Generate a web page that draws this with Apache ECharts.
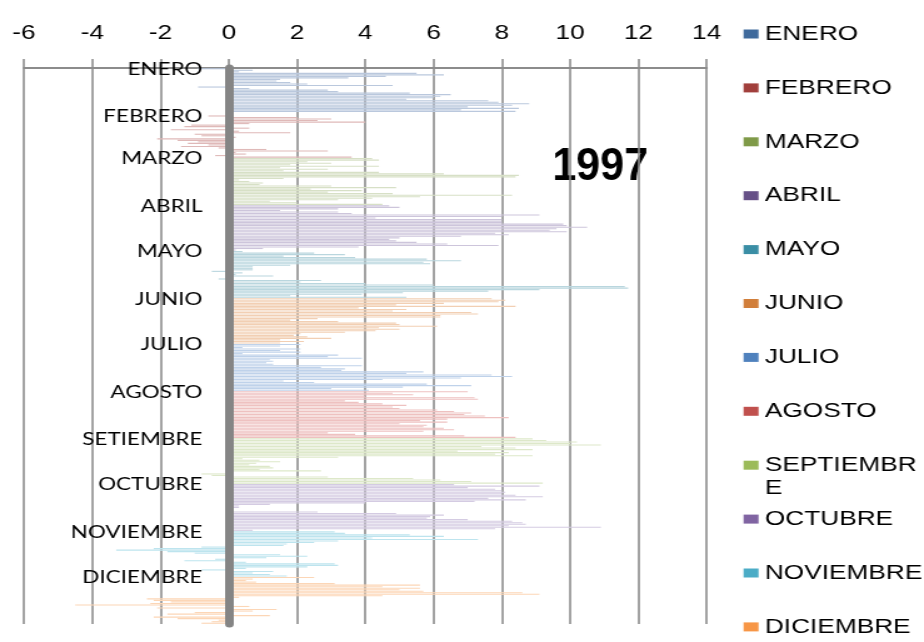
<!DOCTYPE html>
<html>
<head>
<meta charset="utf-8">
<script src="https://cdn.jsdelivr.net/npm/echarts@6/dist/echarts.min.js"></script>
<style>
    html, body { margin: 0; padding: 0; background: #fff; overflow: hidden; }
    /* el gráfico original está estirado en horizontal */
    #chart { width: 739px; height: 642px; transform: scaleX(1.2503); transform-origin: 0 0; }
</style>
</head>
<body>
<div id="chart"></div>
<script>
// leyenda y etiquetas del eje
var meses = ['ENERO', 'FEBRERO', 'MARZO', 'ABRIL', 'MAYO', 'JUNIO', 'JULIO', 'AGOSTO', 'SEPTIEMBRE', 'OCTUBRE', 'NOVIEMBRE', 'DICIEMBRE'];
var etiquetasEje = ['ENERO', 'FEBRERO', 'MARZO', 'ABRIL', 'MAYO', 'JUNIO', 'JULIO', 'AGOSTO', 'SETIEMBRE', 'OCTUBRE', 'NOVIEMBRE', 'DICIEMBRE'];
var ticksX = [-6, -4, -2, 0, 2, 4, 6, 8, 10, 12, 14];

// valores diarios 1997
var ene = [-0.9, 0.7, 0.3, 5.5, 6.3, 4.6, 3.5, 1.5, 1.4, 1.8, 2.3, 4.8, -0.9, 0.6, 2.9, 3.2, 5.3, 6.5, 6.2, 6.0, 5.2, 7.6, 7.9, 8.8, 8.3, 7.0, 8.5, 6.8, 8.4, 0.1, 0.1];
var feb = [-0.6, 2.0, 3.0, 2.6, 4.0, 0.6, -1.1, -1.3, 0.6, -1.7, 0.3, 1.8, -1.0, -0.8, 0.2, -2.1, -1.5, -0.9, -1.2, -0.6, -1.4, -0.3, 1.1, 2.9, 0.2, 0.5, -0.4, 3.6];
var mar = [4.2, 4.4, 2.3, 3.0, 1.8, 4.4, 1.5, 2.9, 1.6, 4.4, 6.3, 8.5, 8.4, 1.6, 0.3, 0.6, 1.0, 0.9, 3.0, 4.9, 2.4, 3.9, 2.9, 4.8, 8.3, 5.6, 4.2, 3.2, 1.2, 2.0, 4.5];
var abr = [4.7, 5.0, 3.2, 1.5, 3.2, 3.6, 9.1, 8.0, 4.3, 8.0, 8.0, 8.0, 9.8, 9.9, 10.5, 9.6, 9.4, 9.9, 7.8, 8.2, 6.8, 5.0, 4.7, 4.9, 5.5, 6.4, 7.9, 3.8, 1.0, 0.2];
var may = [0.4, 2.5, 3.4, 1.6, 3.7, 5.8, 6.8, 5.7, 5.9, 1.8, 0.7, 0.7, 0.7, -0.5, 0.4, 0.2, 1.3, 0.1, -0.3, 2.7, 2.1, 4.0, 6.0, 11.6, 11.7, 9.1, 7.6, 5.1, 3.9, 1.8, 5.2];
var jun = [7.7, 8.1, 7.9, 6.3, 4.9, 8.4, 3.8, 5.2, 4.8, 7.1, 7.3, 6.2, 6.2, 2.6, 1.8, 3.2, 4.9, 5.0, 6.1, 4.4, 5.0, 4.3, 3.4, 2.1, 1.9, 2.3, 3.0, 1.5, 2.2, 1.5];
var jul = [2.1, 1.5, 0.4, 2.1, 1.5, 2.1, 0.4, 3.2, 2.9, 3.9, 1.2, 1.3, 1.1, 1.3, 3.9, 2.7, 3.4, 3.3, 5.7, 5.2, 7.7, 8.3, 6.8, 4.5, 1.6, 2.5, 5.8, 7.1, 5.1, 3.0, 4.1];
var ago = [7.0, 4.8, 5.4, 4.0, 7.2, 7.3, 3.4, 3.8, 4.5, 5.2, 4.8, 5.0, 6.1, 6.6, 7.1, 6.9, 7.5, 8.2, 6.4, 5.6, 6.4, 5.0, 5.8, 5.7, 6.3, 6.6, 5.7, 2.9, 3.7, 6.9, 8.4];
var sep = [8.9, 9.3, 10.2, 10.0, 10.9, 7.4, 8.4, 8.9, 6.7, 8.2, 7.8, 8.9, 3.2, 0.4, 0.9, 1.5, 0.8, 0.6, 1.2, 1.3, 0.9, 2.7, 0.1, -0.8, -0.5, 2.9, 5.4, 6.2, 7.1, 9.2];
var oct = [6.6, 9.1, 7.0, 7.8, 8.0, 8.1, 8.0, 8.4, 9.2, 7.6, 8.7, 7.2, 4.0, 1.2, 0.3, 0.3, 0.0, 0.0, 2.6, 4.9, 6.3, 5.9, 5.8, 7.0, 8.3, 8.6, 8.7, 8.2, 10.9, 7.8, 0.7];
var nov = [3.1, 3.4, 5.3, 6.3, 4.2, 7.3, 3.2, 2.5, 1.7, 1.6, -0.8, -2.2, -3.3, -1.8, -1.0, 1.5, 2.3, 1.1, -0.4, -1.3, 0.5, 3.1, 3.2, 2.3, 0.5, -0.8, 1.3, 0.7, 1.2, 1.7];
var dic = [2.5, 0.7, 0.5, 0.8, 3.1, 5.6, 4.5, 5.6, 5.0, 5.7, 8.6, 9.1, 4.5, 0.3, -2.4, -2.2, -1.7, -2.3, -4.5, 0.6, -2.1, 1.4, 0.7, -1.0, -1.8, 1.2, -2.2, -1.5, -0.3, -0.5, -0.8];

var valoresMes = [ene, feb, mar, abr, may, jun, jul, ago, sep, oct, nov, dic];

var coloresLeyenda = ['#3f6a9c', '#a13f3c', '#7f9a48', '#665087', '#3a8ea5', '#d17e3a', '#4f81bd', '#c0504d', '#9bbb59', '#8064a2', '#4bacc6', '#f79646'];
var coloresBarra = ['#bac8dd', '#dfb9b8', '#d7e0c6', '#cdc5db', '#b9d6de', '#f2cfb3', '#bfd2ea', '#eec1c0', '#dde8c9', '#d4cbe2', '#bde4ee', '#fcd6b6'];

// categorías: un día por barra
var dias = [];
var inicioMes = {};
valoresMes.forEach(function (vals, m) {
    inicioMes[dias.length] = etiquetasEje[m];
    vals.forEach(function () {
        dias.push(String(dias.length + 1));
    });
});

var series = valoresMes.map(function (vals, m) {
    var data = [];
    var desde = 0;
    for (var k = 0; k < m; k++) desde += valoresMes[k].length;
    for (var i = 0; i < dias.length; i++) {
        data.push(i >= desde && i < desde + vals.length ? vals[i - desde] : '-');
    }
    return {
        name: meses[m],
        type: 'bar',
        data: data,
        barWidth: 1.1,
        barGap: '-100%',
        itemStyle: { color: coloresBarra[m] }
    };
});

var option = {
    animation: false,
    grid: { left: 19.2, right: 173.8, top: 68, bottom: 18, containLabel: false, outerBoundsMode: 'none' },
    legend: {
        orient: 'vertical',
        left: 594.7,
        top: 22,
        padding: 0,
        itemWidth: 12,
        itemHeight: 9,
        itemGap: 29.9,
        icon: 'rect',
        textStyle: { fontFamily: 'Liberation Sans', fontSize: 21, lineHeight: 24, color: '#000' },
        // en el original la etiqueta se corta en dos líneas
        formatter: function (name) {
            return name === 'SEPTIEMBRE' ? 'SEPTIEMBR' : name;
        },
        data: meses.map(function (n, m) {
            return { name: n, itemStyle: { color: coloresLeyenda[m] } };
        })
    },
    xAxis: {
        type: 'value',
        position: 'top',
        min: ticksX[0],
        max: ticksX[ticksX.length - 1],
        interval: 2,
        axisLine: { show: true, lineStyle: { color: '#8c8c8c', width: 2 } },
        axisTick: { show: true, length: 9, lineStyle: { color: '#8c8c8c', width: 1.6 } },
        axisLabel: { fontFamily: 'Liberation Sans', fontSize: 21, lineHeight: 24, color: '#000', margin: 23 },
        splitLine: { show: true, lineStyle: { color: '#8c8c8c', width: 1.6 } }
    },
    yAxis: {
        type: 'category',
        inverse: true,
        data: dias,
        z: 5,
        axisLine: { onZero: true, lineStyle: { color: '#858585', width: 7 } },
        axisTick: { show: false },
        axisLabel: {
            interval: function (index) {
                return inicioMes[index] !== undefined;
            },
            formatter: function (value, index) {
                return inicioMes[index] || '';
            },
            fontFamily: 'Lato',
            fontSize: 18,
            color: '#000',
            margin: -142.8
        }
    },
    graphic: [{
        type: 'text',
        x: 480,
        y: 167,
        scaleX: 0.75,
        style: {
            text: '1997',
            font: 'bold 46px "Liberation Sans"',
            fill: '#000',
            align: 'center',
            verticalAlign: 'middle'
        }
    }, {
        // resto de "SEPTIEMBRE" en la leyenda
        type: 'text',
        x: 611.7,
        y: 488,
        style: {
            text: 'E',
            font: '21px "Liberation Sans"',
            fill: '#000',
            align: 'left',
            verticalAlign: 'middle'
        }
    }],
    series: series
};

var myChart = echarts.init(document.getElementById('chart'));
myChart.setOption(option);
</script>
</body>
</html>
